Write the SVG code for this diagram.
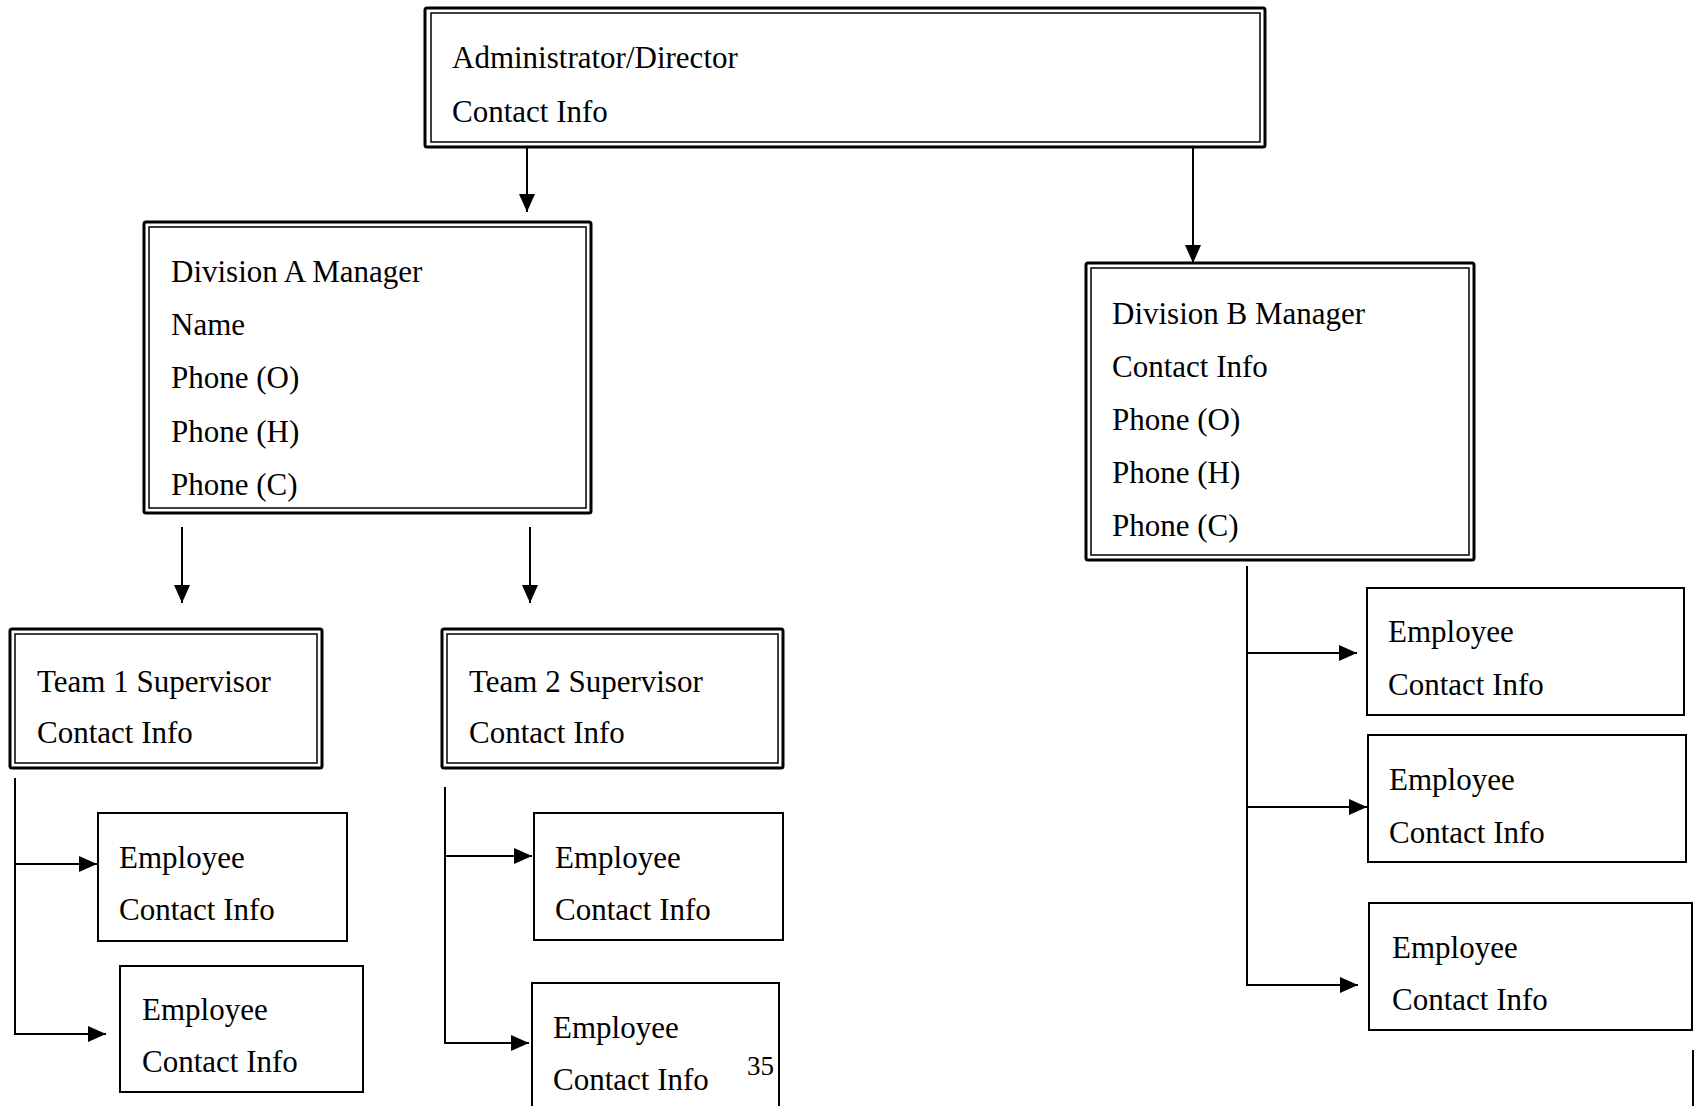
<svg xmlns="http://www.w3.org/2000/svg" width="1695" height="1106" viewBox="0 0 1695 1106">
<style>
.t{font-family:"Liberation Serif","Times New Roman",serif;font-size:31px;fill:#000}
.p{font-family:"Liberation Serif","Times New Roman",serif;font-size:27px;fill:#000}
.o{fill:#fff;stroke:#000;stroke-width:3}
.i{fill:none;stroke:#000;stroke-width:1.5}
.s{fill:#fff;stroke:#000;stroke-width:2}
.c{fill:none;stroke:#000;stroke-width:2;marker-end:url(#ah)}
</style>
<defs>
<marker id="ah" markerUnits="userSpaceOnUse" markerWidth="19" markerHeight="18" refX="18" refY="8" orient="auto">
<path d="M0,0 L18,8 L0,16 z" fill="#000"/>
</marker>
</defs>
<rect width="1695" height="1106" fill="#fff"/>
<g id="connectors">
<path class="c" d="M527,147 V212"/>
<path class="c" d="M1193,147 V263"/>
<path class="c" d="M182,527 V603"/>
<path class="c" d="M530,527 V603"/>
<path class="c" d="M15,778 V1034 H106"/>
<path class="c" d="M15,864 H97"/>
<path class="c" d="M445,787 V1043 H529"/>
<path class="c" d="M445,856 H532"/>
<path class="c" d="M1247,566 V985 H1358"/>
<path class="c" d="M1247,653 H1357"/>
<path class="c" d="M1247,807 H1367"/>
</g>
<g id="admin">
<rect class="o" x="425" y="8" width="840" height="139" rx="2"/>
<rect class="i" x="431" y="13" width="829" height="129"/>
<text class="t" x="452" y="68">Administrator/Director</text>
<text class="t" x="452" y="122">Contact Info</text>
</g>
<g id="divA">
<rect class="o" x="144" y="222" width="447" height="291" rx="2"/>
<rect class="i" x="149" y="227" width="437" height="281"/>
<text class="t" x="171" y="282">Division A Manager</text>
<text class="t" x="171" y="335">Name</text>
<text class="t" x="171" y="388">Phone (O)</text>
<text class="t" x="171" y="442">Phone (H)</text>
<text class="t" x="171" y="495">Phone (C)</text>
</g>
<g id="divB">
<rect class="o" x="1086" y="263" width="388" height="297" rx="2"/>
<rect class="i" x="1091" y="268" width="378" height="287"/>
<text class="t" x="1112" y="324">Division B Manager</text>
<text class="t" x="1112" y="377">Contact Info</text>
<text class="t" x="1112" y="430">Phone (O)</text>
<text class="t" x="1112" y="483">Phone (H)</text>
<text class="t" x="1112" y="536">Phone (C)</text>
</g>
<g id="team1">
<rect class="o" x="10" y="629" width="312" height="139" rx="2"/>
<rect class="i" x="15" y="634" width="302" height="129"/>
<text class="t" x="37" y="692">Team 1 Supervisor</text>
<text class="t" x="37" y="743">Contact Info</text>
</g>
<g id="team2">
<rect class="o" x="442" y="629" width="341" height="139" rx="2"/>
<rect class="i" x="447" y="634" width="331" height="129"/>
<text class="t" x="469" y="692">Team 2 Supervisor</text>
<text class="t" x="469" y="743">Contact Info</text>
</g>
<g id="emp1">
<rect class="s" x="98" y="813" width="249" height="128"/>
<text class="t" x="119" y="868">Employee</text>
<text class="t" x="119" y="920">Contact Info</text>
</g>
<g id="emp2">
<rect class="s" x="120" y="966" width="243" height="126"/>
<text class="t" x="142" y="1020">Employee</text>
<text class="t" x="142" y="1072">Contact Info</text>
</g>
<g id="emp3">
<rect class="s" x="534" y="813" width="249" height="127"/>
<text class="t" x="555" y="868">Employee</text>
<text class="t" x="555" y="920">Contact Info</text>
</g>
<g id="emp4">
<rect class="s" x="532" y="983" width="247" height="140"/>
<text class="t" x="553" y="1038">Employee</text>
<text class="t" x="553" y="1090">Contact Info</text>
<text class="p" x="747" y="1075">35</text>
</g>
<g id="emp5">
<rect class="s" x="1367" y="588" width="317" height="127"/>
<text class="t" x="1388" y="642">Employee</text>
<text class="t" x="1388" y="695">Contact Info</text>
</g>
<g id="emp6">
<rect class="s" x="1368" y="735" width="318" height="127"/>
<text class="t" x="1389" y="790">Employee</text>
<text class="t" x="1389" y="843">Contact Info</text>
</g>
<g id="emp7">
<rect class="s" x="1369" y="903" width="323" height="127"/>
<text class="t" x="1392" y="958">Employee</text>
<text class="t" x="1392" y="1010">Contact Info</text>
</g>
<line x1="1693" y1="1050" x2="1693" y2="1106" stroke="#000" stroke-width="2"/>
</svg>
